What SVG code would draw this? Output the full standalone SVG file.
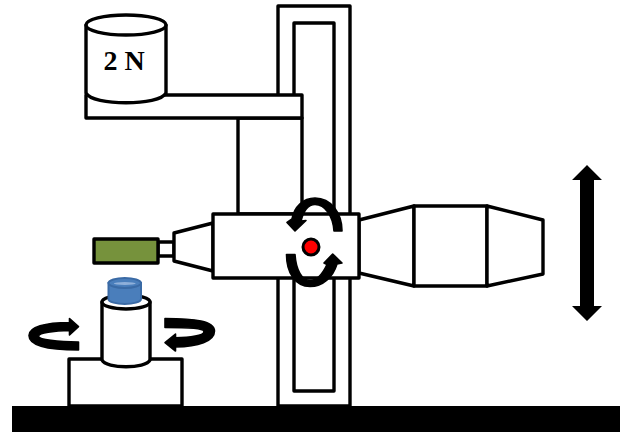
<svg xmlns="http://www.w3.org/2000/svg" width="620" height="432" viewBox="0 0 620 432">
<style>
.s{fill:#fff;stroke:#000;stroke-width:3.4;stroke-linejoin:round}
.k{fill:#000;stroke:none}
.r{fill:#000;stroke:#000;stroke-width:1.6;stroke-linejoin:round}
</style>
<rect width="620" height="432" fill="#fff"/>
<g id="column"><rect class="s" x="278" y="6" width="72" height="400"/><rect class="s" x="294" y="23" width="40" height="368"/></g>
<g id="mount"><rect class="s" x="238" y="118" width="64" height="96"/></g>
<g id="arm"><rect class="s" x="86" y="95" width="216" height="23"/></g>
<g id="weight">
<path class="s" d="M86 25V93C92 106 160 106 166 93V25Z"/>
<ellipse class="s" cx="126" cy="25" rx="40" ry="10"/>
<text x="124" y="70" font-family="'Liberation Serif',serif" font-weight="bold" font-size="28" text-anchor="middle">2 N</text>
</g>
<g id="base">
<rect class="k" x="12" y="406" width="608" height="26"/>
<rect class="s" x="69" y="359" width="113" height="47"/>
</g>
<g id="spindle">
<path class="s" d="M102 302V360C106 369 146 369 150 360V302Z"/>
<ellipse class="s" cx="126" cy="302" rx="24" ry="7"/>
</g>
<g id="sample">
<path d="M108.500 283V299C108.500 305.500 141 305.500 141 299V283Z" fill="#4a7ebb" stroke="#3a6aa5" stroke-width="2"/>
<ellipse cx="124.750" cy="283" rx="16.250" ry="5" fill="#4a7ebb" stroke="#3a6aa5" stroke-width="2"/>
<ellipse cx="124.750" cy="283.500" rx="11" ry="1.500" fill="#8fb0da"/>
</g>
<g id="probe">
<rect class="s" x="158" y="242" width="16" height="14"/>
<rect x="94" y="239" width="64" height="24" fill="#76923c" stroke="#000" stroke-width="3.400" stroke-linejoin="round"/>
<path class="s" d="M174 233L213 223V271L174 261Z"/>
</g>
<g id="rear-body">
<path class="s" d="M359 220L414 206V286L359 273Z"/>
<rect class="s" x="414" y="206" width="73" height="80"/>
<path class="s" d="M487 206L543 220V274L487 286Z"/>
</g>
<g id="head"><rect class="s" x="213" y="214" width="146" height="64"/></g>
<g id="pivot"><circle cx="311" cy="247" r="8" fill="#f00" stroke="#000" stroke-width="3"/></g>
<g id="connectors">
<path class="r" d="M342 231C342 213 331 198 315 198C303 198 294 207 292 219L287 222.500L295 231L306 220.500L301 221C303.500 211 308 204.500 315 204.500C325 204.500 333 216 334 231Z"/>
<path class="r" d="M286.500 254.500C286.500 272 295 286.500 310 286.500C323 286.500 333 277 337 264L342 263L332.700 254L324 263L327 264.500C323 273 318 280.500 310 280.500C302 280.500 296 270 295 254.500Z"/>
<path class="r" d="M78.500 342V350C50 350 29 346 29 335.500C29 327 45 322.500 69.500 322.500V318.500L78.500 326.700L69.500 335V330.500C54 330.500 38.500 333 38.500 336.200C38.500 339.500 58 342 78.500 342Z"/>
<path class="r" d="M165 318.500C195 318.500 214.500 321 214.500 331C214.500 341.500 198 346.500 175.500 347V351L165 342.700L175.500 334V337.800C190 337.500 204 335.500 204 331.700C204 327.500 185 327.500 165 327.500Z"/>
<path class="k" d="M587 165L602 180H594V306H602L587 321L572 306H580V180H572Z"/>
</g>
</svg>
